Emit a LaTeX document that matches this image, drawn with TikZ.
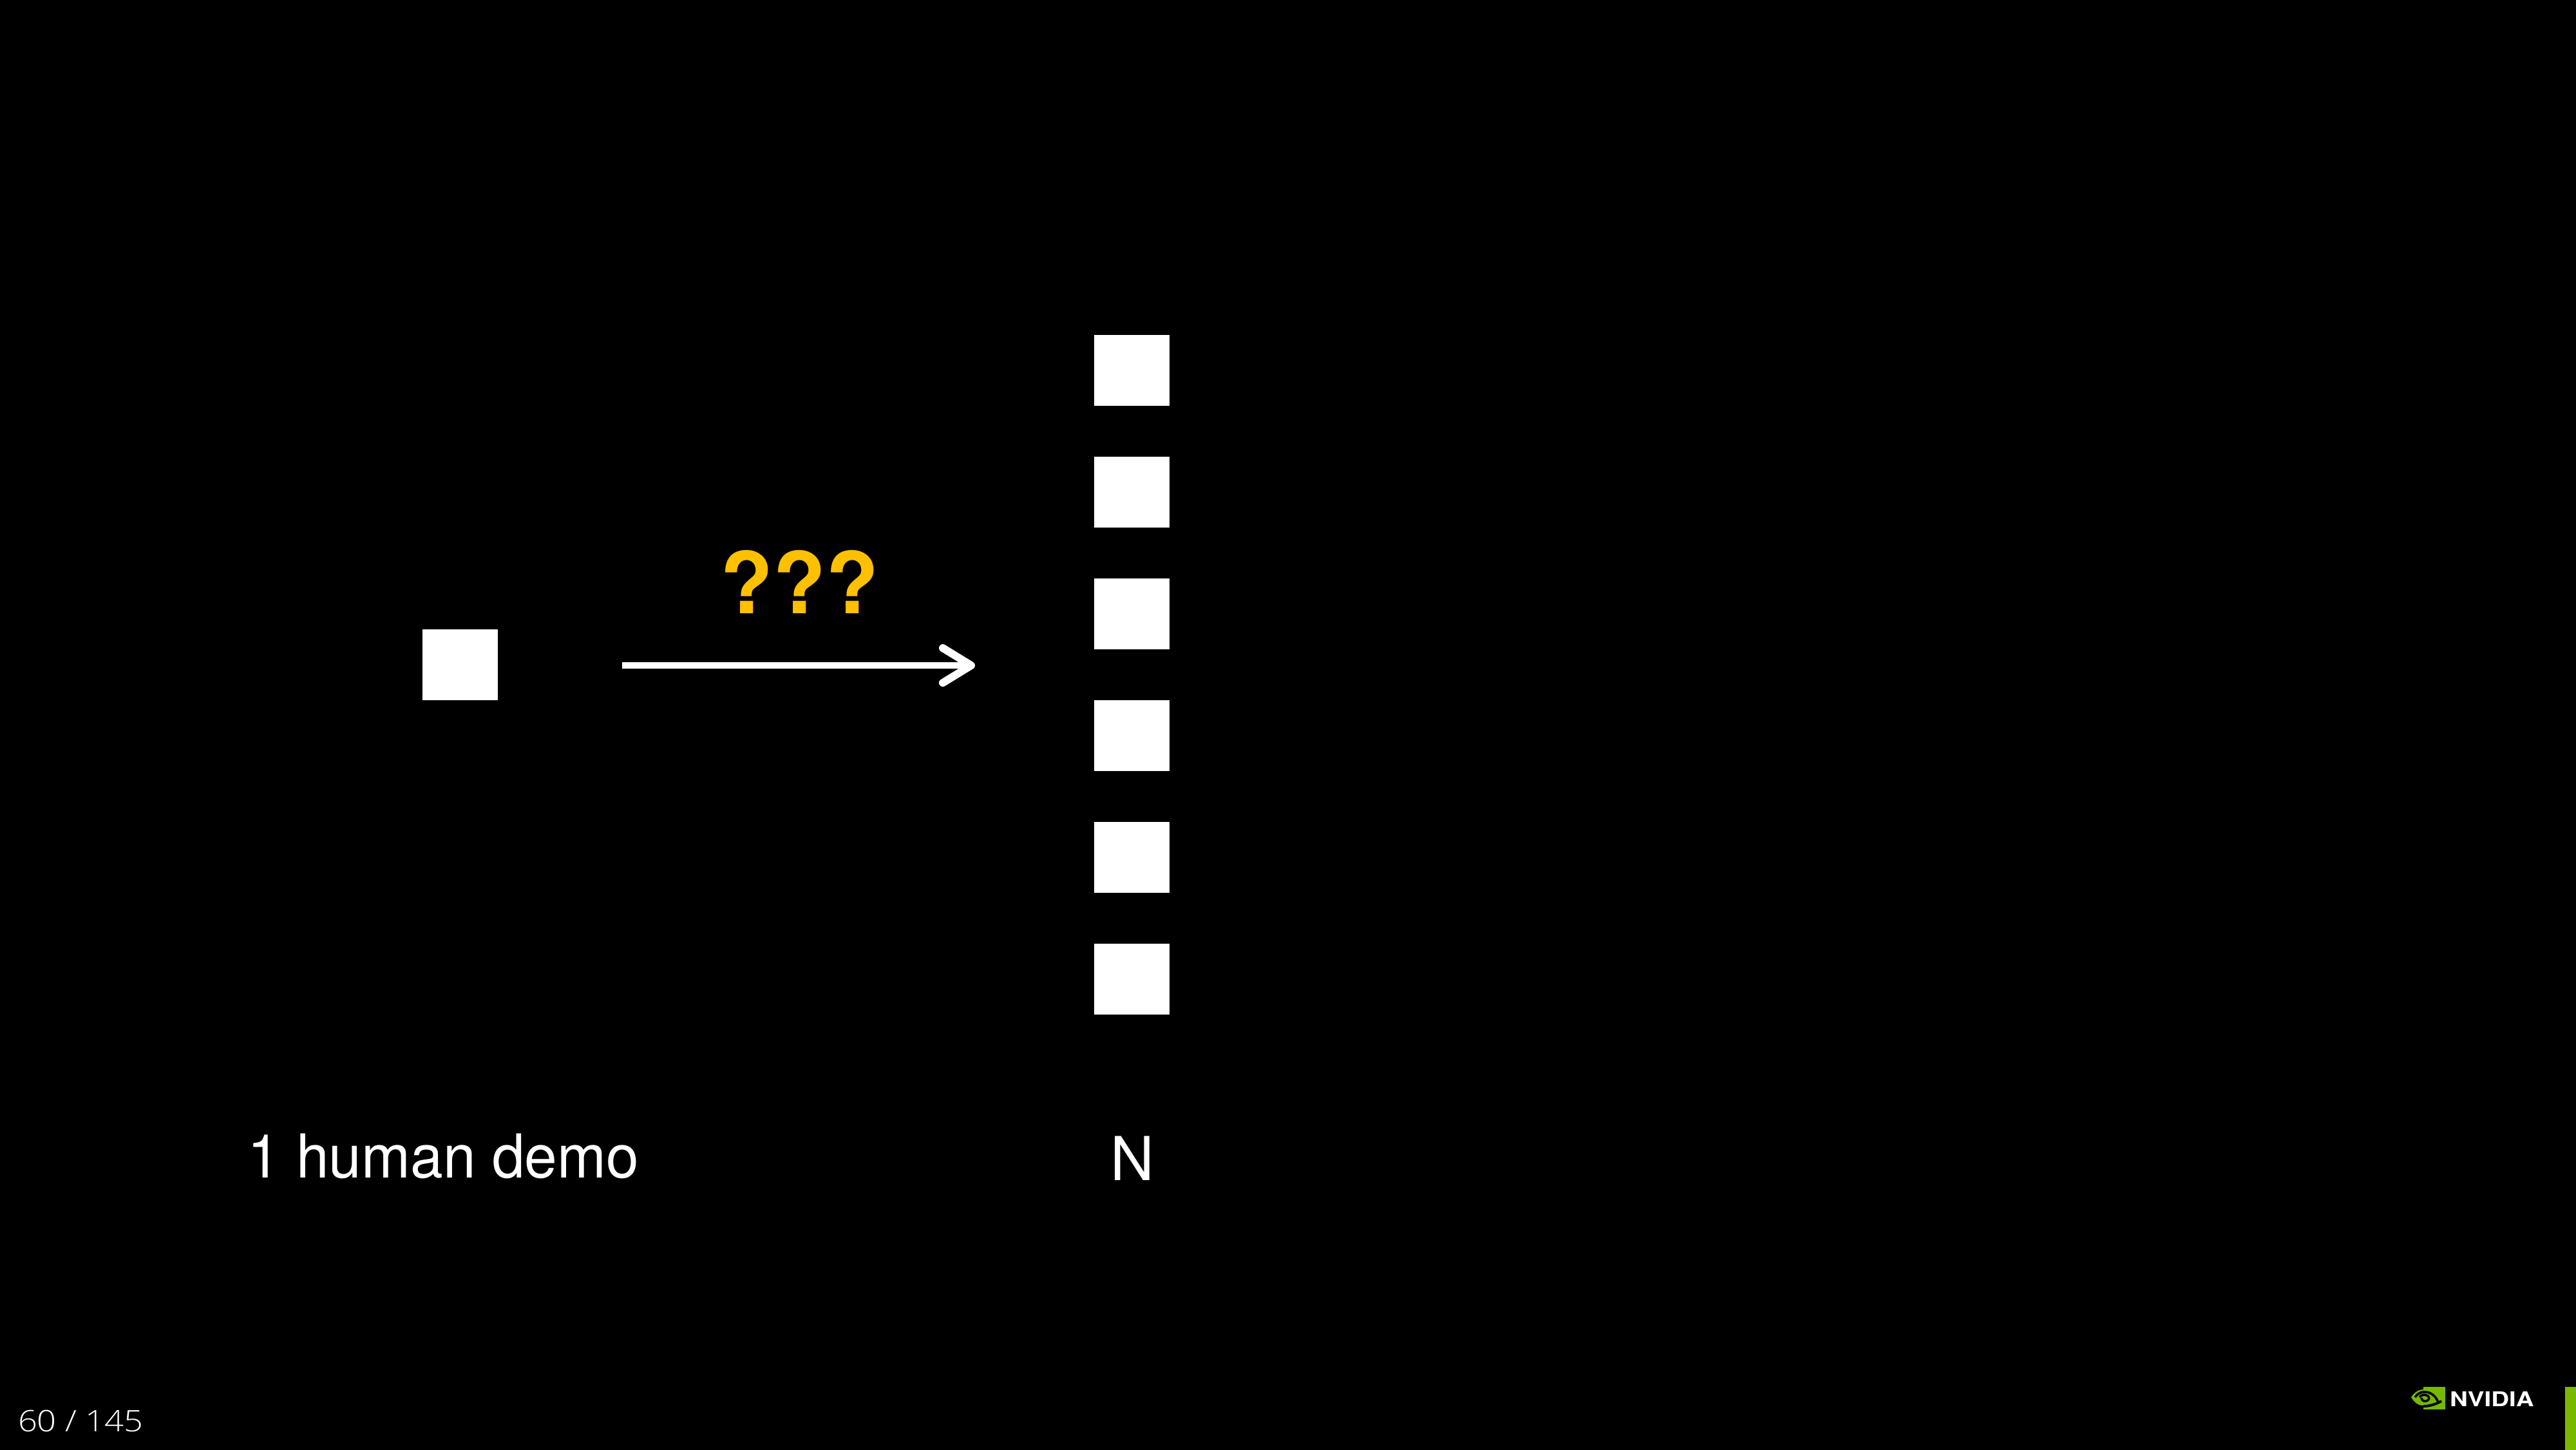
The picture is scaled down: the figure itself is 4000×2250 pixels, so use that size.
\documentclass[tikz,border=0pt]{standalone}
\usepackage{fontspec}
\setmainfont{TeX Gyre Heros}
\newfontfamily\lightf{Open Sans Light}
\usetikzlibrary{arrows.meta}
\definecolor{nvgreen}{HTML}{76B900}
\definecolor{qyellow}{HTML}{FFC000}
\tikzset{
  px/.style={x=0.25pt,y=-0.25pt},
  sq/.style={fill=white,draw=none,minimum width=29.25pt,minimum height=27.5pt,inner sep=0pt,outer sep=0pt},
  txt/.style={text=white,inner sep=0pt,outer sep=0pt,anchor=base west},
  arr/.style={draw=white,line width=2.4pt,-{Straight Barb[length=11pt,width=13.5pt,line width=3pt,round]}}
}
\begin{document}
\begin{tikzpicture}[px]
\useasboundingbox (0,0) rectangle (4000,2250);
\fill[black] (-20,-20) rectangle (4020,2270);
\node[sq] (demo) at (714.5,1032) {};
\node[sq] (n1) at (1757.5,575) {};
\node[sq] (n2) at (1757.5,764) {};
\node[sq] (n3) at (1757.5,953) {};
\node[sq] (n4) at (1757.5,1142) {};
\node[sq] (n5) at (1757.5,1331) {};
\node[sq] (n6) at (1757.5,1520) {};
\coordinate (as) at (966,1033);
\coordinate (ae) at (1514,1033);
\draw[arr] (as) -- (ae);
\node[txt,text=qyellow,font=\bfseries\fontsize{33}{33}\selectfont,xscale=1.02] (q) at (1118,952) {???};
\node[txt,font=\fontsize{23.5}{24}\selectfont,xscale=.97] (human) at (384,1828) {1 human demo};
\node[txt,font=\fontsize{23.5}{24}\selectfont] (nlabel) at (1724,1832) {N};
\node[txt,font=\lightf\fontsize{11.5}{12}\selectfont,xscale=1.14] (page) at (28,2222) {60 / 145};
% logo
\fill[nvgreen] (3983,2153) rectangle (4020,2270);
\fill[nvgreen] (3763,2153) rectangle (3797,2188);
\begin{scope}
\clip (3744,2150) rectangle (3797,2190);
\fill[nvgreen] (3744,2169) .. controls (3750,2160) and (3757,2157) .. (3763,2157) -- (3763,2182) .. controls (3756,2182) and (3749,2178) .. (3744,2169) -- cycle;
\draw[black,line width=.9pt] (3750,2169) .. controls (3755,2162) and (3762,2159) .. (3772,2162) .. controls (3781,2166) and (3784,2172) .. (3786,2177);
\draw[black,line width=.9pt] (3757,2169) .. controls (3760,2165) and (3765,2164) .. (3770,2167) .. controls (3773,2170) and (3772,2174) .. (3767,2175) .. controls (3763,2176) and (3760,2173) .. (3760,2170);
\draw[black,line width=1pt] (3763,2183) .. controls (3772,2183) and (3782,2180) .. (3791,2175);
\end{scope}
\node[txt,font=\bfseries\fontsize{7.9}{8}\selectfont,xscale=1.22] (logotext) at (3804,2183) {NVIDIA};
\node[txt,font=\fontsize{2}{2}\selectfont] (reg) at (3926,2183) {®};
\end{tikzpicture}
\end{document}
